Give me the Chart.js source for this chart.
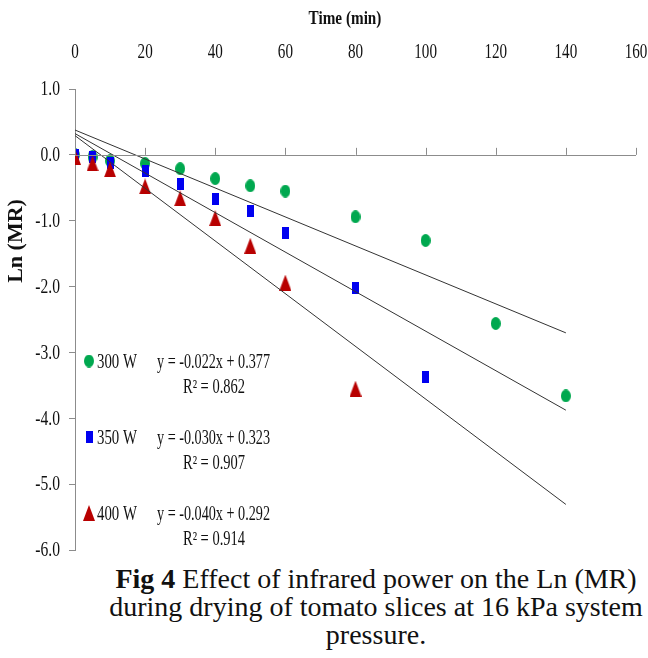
<!DOCTYPE html>
<html>
<head>
<meta charset="utf-8">
<script src="https://cdn.jsdelivr.net/npm/chart.js"></script>
<style>
  body { margin: 0; background: #fff; width: 648px; height: 658px; overflow: hidden; }
  #wrap { position: relative; width: 648px; height: 560px; }
  #caption {
    position: absolute; left: 90px; top: 565px; width: 572px;
    text-align: center; font-family: "Liberation Serif", "Times New Roman", serif;
    font-size: 28px; line-height: 28px; color: #111; white-space: nowrap;
  }
</style>
</head>
<body>
<div id="wrap"><canvas id="lnChart" width="648" height="560"></canvas></div>
<div id="caption"><b>Fig 4</b> Effect of infrared power on the Ln (MR)<br>during drying of tomato slices at 16 kPa system<br>pressure.</div>
<script>
// time in minutes, Ln(MR)
var times300 = [0, 5, 10, 20, 30, 40, 50, 60, 80, 100, 120, 140];
var ln300 = [0.0, -0.03, -0.09, -0.13, -0.21, -0.36, -0.47, -0.55, -0.94, -1.30, -2.56, -3.66];

var times350 = [0, 5, 10, 20, 30, 40, 50, 60, 80, 100];
var ln350 = [0.0, -0.04, -0.12, -0.24, -0.45, -0.67, -0.85, -1.18, -2.02, -3.37];

var times400 = [0, 5, 10, 20, 30, 40, 50, 60, 80];
var ln400 = [-0.03, -0.13, -0.22, -0.48, -0.66, -0.96, -1.38, -1.94, -3.55];

// linear trend lines, drawn from 0 to 140 min
var trendX = [0, 140];
var trend300 = [0.377, -2.703];
var trend350 = [0.323, -3.877];
var trend400 = [0.292, -5.308];

var xTicks = [0, 20, 40, 60, 80, 100, 120, 140, 160];
var legendRows = [
    { name: '300 W', eq: 'y = -0.022x + 0.377', r2: '0.862' },
    { name: '350 W', eq: 'y = -0.030x + 0.323', r2: '0.907' },
    { name: '400 W', eq: 'y = -0.040x + 0.292', r2: '0.914' }
];

var green = '#00a84f', blue = '#0000f0', red = '#b80000';

function pts(xs, ys) {
    return xs.map(function (x, i) { return { x: x, y: ys[i] }; });
}

// markers are taller than wide in the original
function marker(shape, color, w, h) {
    var c = document.createElement('canvas');
    c.width = w; c.height = h;
    var g = c.getContext('2d');
    g.fillStyle = color;
    if (shape == 'circle') {
        g.beginPath(); g.ellipse(w / 2, h / 2, w / 2, h / 2, 0, 0, Math.PI * 2); g.fill();
    } else if (shape == 'rect') {
        g.fillRect(0, 0, w, h);
    } else {
        g.beginPath(); g.moveTo(w / 2, 0); g.lineTo(w, h); g.lineTo(0, h); g.closePath(); g.fill();
    }
    return c;
}
var mkGreen = marker('circle', green, 10, 13);
var mkBlue = marker('rect', blue, 7, 12);
var mkRed = marker('tri', red, 12, 16);

var serif = '"Liberation Serif", "Times New Roman", serif';

// the original uses a narrow Times, so squeeze text horizontally
function narrowText(ctx, text, x, y, k) {
    ctx.fillText(text, x, y, ctx.measureText(text).width * k);
}

var decor = {
    id: 'decor',
    afterDraw: function (chart) {
        var ctx = chart.ctx, xs = chart.scales.x, ys = chart.scales.y;
        var area = chart.chartArea;
        var y0 = ys.getPixelForValue(0);
        ctx.save();

        // x axis runs along Ln(MR) = 0, ticks point up
        ctx.strokeStyle = '#8c8c8c';
        ctx.lineWidth = 1;
        ctx.beginPath();
        ctx.moveTo(area.left, Math.round(y0) + 0.5);
        ctx.lineTo(area.right, Math.round(y0) + 0.5);
        xTicks.forEach(function (t) {
            var px = Math.round(xs.getPixelForValue(t)) + 0.5;
            ctx.moveTo(px, y0);
            ctx.lineTo(px, y0 - 7);
        });
        ctx.stroke();

        ctx.fillStyle = '#111';
        // x tick labels along the top
        ctx.font = '21px ' + serif;
        ctx.textAlign = 'center';
        ctx.textBaseline = 'alphabetic';
        xTicks.forEach(function (t) {
            narrowText(ctx, String(t), xs.getPixelForValue(t), 58, 0.72);
        });
        // y tick labels
        ctx.font = '20px ' + serif;
        ctx.textAlign = 'right';
        ctx.textBaseline = 'middle';
        ys.ticks.forEach(function (t) {
            narrowText(ctx, t.value.toFixed(1), area.left - 15, ys.getPixelForValue(t.value) + 1, 0.78);
        });

        // axis titles
        ctx.font = 'bold 19px ' + serif;
        ctx.textAlign = 'center';
        narrowText(ctx, 'Time (min)', 345, 19, 0.8);
        ctx.save();
        ctx.translate(16, 241);
        ctx.rotate(-Math.PI / 2);
        ctx.font = 'bold 22px ' + serif;
        narrowText(ctx, 'Ln (MR)', 0, 0, 1.1);
        ctx.restore();

        // legend with the fitted equations
        var L = area.left, T = area.top;
        var marks = [mkGreen, mkBlue, mkRed];
        var rowsY = [272, 348, 424];
        ctx.textAlign = 'left';
        ctx.textBaseline = 'alphabetic';
        ctx.font = '20px ' + serif;
        legendRows.forEach(function (r, i) {
            var yy = T + rowsY[i];
            var m = marks[i];
            ctx.drawImage(m, L + 14 - m.width / 2, yy - m.height / 2);
            ctx.fillText(r.name, L + 22, yy + 7, 40);
            ctx.fillText(r.eq, L + 82, yy + 7, 113);
            ctx.fillText('R\u00b2 = ' + r.r2, L + 108, yy + 32, 62);
        });
        ctx.restore();
    }
};

var ctx = document.getElementById('lnChart').getContext('2d');
new Chart(ctx, {
    type: 'scatter',
    data: {
        datasets: [
            { label: '300 W', data: pts(times300, ln300), pointStyle: mkGreen, order: 3 },
            { label: '350 W', data: pts(times350, ln350), pointStyle: mkBlue, order: 2 },
            { label: '400 W', data: pts(times400, ln400), pointStyle: mkRed, order: 1 },
            { label: 'fit 300', type: 'line', data: pts(trendX, trend300), borderColor: '#333', borderWidth: 1, pointRadius: 0, order: 0 },
            { label: 'fit 350', type: 'line', data: pts(trendX, trend350), borderColor: '#333', borderWidth: 1, pointRadius: 0, order: 0 },
            { label: 'fit 400', type: 'line', data: pts(trendX, trend400), borderColor: '#333', borderWidth: 1, pointRadius: 0, order: 0 }
        ]
    },
    options: {
        responsive: false,
        animation: false,
        devicePixelRatio: 1,
        layout: { padding: { top: 0, left: 0, right: 12, bottom: 10 } },
        plugins: { legend: { display: false }, tooltip: { enabled: false } },
        scales: {
            x: {
                type: 'linear',
                position: 'top',
                min: 0, max: 160,
                afterBuildTicks: function (s) { s.ticks = xTicks.map(function (v) { return { value: v }; }); },
                grid: { display: false, drawTicks: false },
                border: { display: false },
                ticks: { display: false },
                afterFit: function (s) { s.height = 89; s.paddingLeft = 0; s.paddingRight = 0; }
            },
            y: {
                min: -6, max: 1,
                ticks: { stepSize: 1, display: false },
                grid: { drawOnChartArea: false, drawTicks: true, tickLength: 6, color: '#8c8c8c' },
                border: { color: '#8c8c8c' },
                afterFit: function (s) { s.width = 75; s.paddingTop = 0; s.paddingBottom = 0; }
            }
        }
    },
    plugins: [decor]
});
</script>
</body>
</html>
